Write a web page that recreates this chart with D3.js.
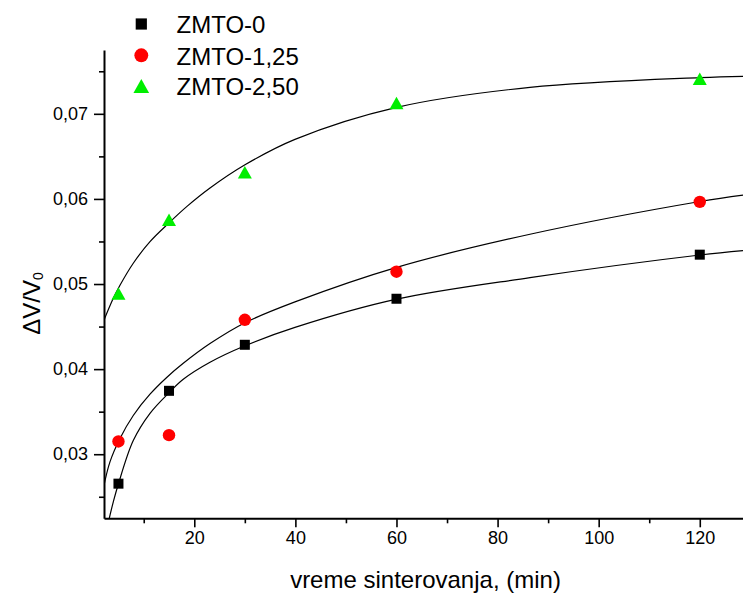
<!DOCTYPE html>
<html>
<head>
<meta charset="utf-8">
<script src="https://cdn.jsdelivr.net/npm/d3@7"></script>
<style>
  html, body { margin: 0; padding: 0; background: #fff; }
  svg { display: block; }
  text { font-family: "Liberation Sans", Arial, sans-serif; fill: #000; }
</style>
</head>
<body>
<svg id="chart" width="743" height="594"></svg>
<script>
// ---- data ----
const times = [5, 15, 30, 60, 120];
const seriesNames = ["ZMTO-0", "ZMTO-1,25", "ZMTO-2,50"];
const zmto0 = [0.02654, 0.03745, 0.04286, 0.04827, 0.05345];
const zmto125 = [0.03150, 0.03224, 0.04580, 0.05145, 0.05965];
const zmto250 = [0.04888, 0.05755, 0.06312, 0.07126, 0.07412];

// fitted curves
const fit0X = [3.18, 3.98, 4.97, 7.93, 11.24, 15.05, 17.82, 23.11, 30.03, 39.92, 60.04, 86.41, 120.04, 128.55];
const fit0Y = [0.02247, 0.0244, 0.02647, 0.0316, 0.0348, 0.03725, 0.0388, 0.0408, 0.04274, 0.0449, 0.04822, 0.05075, 0.05341, 0.05392];
const fit125X = [2.0, 3.32, 5.30, 7.93, 11.24, 14.54, 17.82, 23.11, 30.03, 39.92, 60.04, 86.41, 120.04, 128.55];
const fit125Y = [0.02596, 0.0291, 0.03185, 0.03455, 0.03705, 0.03902, 0.04068, 0.0430, 0.04545, 0.0479, 0.05196, 0.05585, 0.0597, 0.06045];
const fit250X = [2.0, 3.98, 5.30, 7.93, 11.24, 15.05, 18.50, 23.11, 30.03, 39.92, 60.04, 86.41, 120.04, 128.55];
const fit250Y = [0.04556, 0.04832, 0.04985, 0.05244, 0.05498, 0.05721, 0.05909, 0.06128, 0.06401, 0.0670, 0.07076, 0.07311, 0.07426, 0.07441];

const xMajor = [20, 40, 60, 80, 100, 120];
const xMinor = [10, 30, 50, 70, 90, 110];
const yMajor = [0.03, 0.04, 0.05, 0.06, 0.07];
const yMinor = [0.025, 0.035, 0.045, 0.055, 0.065, 0.075];
const xDomain = [2.14, 128.55];
const yDomain = [0.02247, 0.0775];

const xTitle = "vreme sinterovanja, (min)";

// ---- layout ----
const mLeft = 104, mRight = 743, mTop = 50, mBottom = 518.3;
const svg = d3.select("#chart");

const x = d3.scaleLinear().domain(xDomain).range([mLeft, mRight]);
const y = d3.scaleLinear().domain(yDomain).range([mBottom, mTop]);

const fmt = d => d3.format(".2f")(d).replace(".", ",");

svg.append("defs").append("clipPath").attr("id", "plotclip")
  .append("rect").attr("x", mLeft).attr("y", mTop)
  .attr("width", mRight - mLeft).attr("height", mBottom - mTop);

// ---- axes ----
const gx = svg.append("g").attr("transform", `translate(0,${mBottom})`);
gx.call(d3.axisBottom(x).tickValues(xMajor).tickSize(9).tickSizeOuter(0).tickPadding(4).tickFormat(d3.format("d")));
gx.select(".domain").attr("stroke-width", 2);
gx.selectAll(".tick line").attr("stroke-width", 1.6);
gx.selectAll(".tick text").attr("font-size", 18).attr("font-family", "Liberation Sans, Arial, sans-serif");

const gxm = svg.append("g").attr("transform", `translate(0,${mBottom})`);
gxm.call(d3.axisBottom(x).tickValues(xMinor).tickSize(5).tickSizeOuter(0).tickFormat(""));
gxm.select(".domain").remove();
gxm.selectAll(".tick line").attr("stroke-width", 1.6);

const gy = svg.append("g").attr("transform", `translate(${mLeft},0)`);
gy.call(d3.axisLeft(y).tickValues(yMajor).tickSize(10).tickSizeOuter(0).tickPadding(6).tickFormat(fmt));
gy.select(".domain").attr("stroke-width", 2);
gy.selectAll(".tick line").attr("stroke-width", 1.6);
gy.selectAll(".tick text").attr("font-size", 18).attr("font-family", "Liberation Sans, Arial, sans-serif");

const gym = svg.append("g").attr("transform", `translate(${mLeft},0)`);
gym.call(d3.axisLeft(y).tickValues(yMinor).tickSize(5).tickSizeOuter(0).tickFormat(""));
gym.select(".domain").remove();
gym.selectAll(".tick line").attr("stroke-width", 1.6);

// axis titles
svg.append("text")
  .attr("x", (mLeft + mRight) / 2 + 2).attr("y", 588)
  .attr("text-anchor", "middle").attr("font-size", 24)
  .text(xTitle);

const yt = svg.append("text")
  .attr("transform", "translate(40,303.5) rotate(-90)")
  .attr("text-anchor", "middle").attr("font-size", 24);
yt.append("tspan").text("\u0394V/V");
yt.append("tspan").attr("font-size", 14).attr("dy", 3).text("0");

// ---- fit curves ----
const line = d3.line().x(d => x(d[0])).y(d => y(d[1])).curve(d3.curveCatmullRom.alpha(0.5));
const fits = [[fit0X, fit0Y], [fit125X, fit125Y], [fit250X, fit250Y]];
const gc = svg.append("g").attr("clip-path", "url(#plotclip)");
fits.forEach(([fx, fy]) => {
  gc.append("path")
    .attr("d", line(fx.map((v, i) => [v, fy[i]])))
    .attr("fill", "none").attr("stroke", "#000").attr("stroke-width", 1.2);
});

// ---- markers ----
const colors = ["#000000", "#ff0000", "#00ee00"];
function triPath(w, h) {
  return `M0,${-h / 2}L${w / 2},${h / 2}L${-w / 2},${h / 2}Z`;
}
function drawMarker(g, type, cx, cy, scale) {
  if (type === 0) {
    const s = 10 * scale;
    g.append("rect").attr("x", cx - s / 2).attr("y", cy - s / 2).attr("width", s).attr("height", s).attr("fill", colors[0]);
  } else if (type === 1) {
    g.append("circle").attr("cx", cx).attr("cy", cy).attr("r", 6.2 * scale).attr("fill", colors[1]);
  } else {
    g.append("path").attr("d", triPath(14 * scale, 12.5 * scale))
      .attr("transform", `translate(${cx},${cy})`).attr("fill", colors[2]);
  }
}
const allSeries = [zmto0, zmto125, zmto250];
const gm = svg.append("g");
allSeries.forEach((vals, si) => {
  vals.forEach((v, i) => drawMarker(gm, si, x(times[i]), y(v), 1));
});

// ---- legend ----
const lg = svg.append("g");
const legY = [24, 55.3, 86];
seriesNames.forEach((name, i) => {
  drawMarker(lg, i, 141.3, legY[i], 1.12);
  lg.append("text").attr("x", 176.5).attr("y", legY[i] + 9.3)
    .attr("font-size", 24).text(name);
});
</script>
</body>
</html>
